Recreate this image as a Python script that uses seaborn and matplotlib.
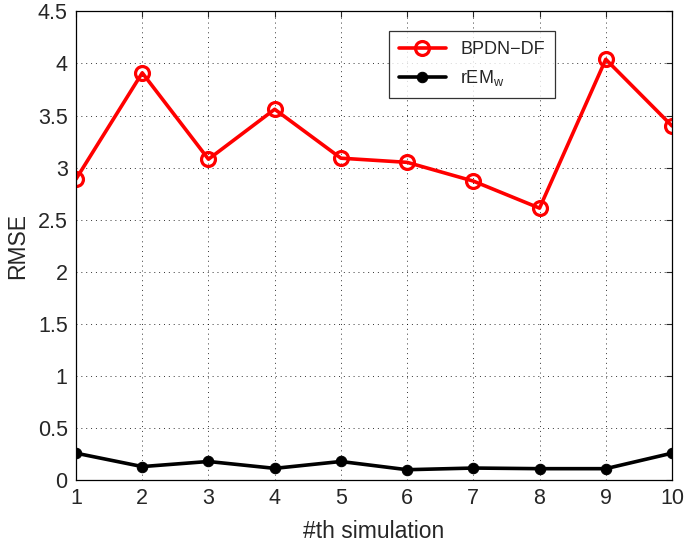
import matplotlib
matplotlib.use("Agg")
import matplotlib.pyplot as plt
import numpy as np
import pandas as pd
import seaborn as sns

# data
simulation = [1, 2, 3, 4, 5, 6, 7, 8, 9, 10]
bpdn_df = [2.89, 3.91, 3.08, 3.56, 3.09, 3.05, 2.87, 2.61, 4.04, 3.40]
rem_w = [0.256, 0.127, 0.176, 0.110, 0.176, 0.097, 0.113, 0.107, 0.107, 0.256]
y_ticks = [0, 0.5, 1, 1.5, 2, 2.5, 3, 3.5, 4, 4.5]
y_ticklabels = ["0", "0.5", "1", "1.5", "2", "2.5", "3", "3.5", "4", "4.5"]

sns.set_style("white")
plt.rcParams["font.family"] = ["Liberation Sans", "DejaVu Sans"]
plt.rcParams["mathtext.fontset"] = "custom"
plt.rcParams["mathtext.rm"] = "Liberation Sans"

df = pd.DataFrame({"sim": simulation, "BPDN": bpdn_df, "REM": rem_w})

fig = plt.figure(figsize=(6.85, 5.44), dpi=100)
ax = fig.add_axes([0.111, 0.118, 0.870, 0.861])

sns.lineplot(data=df, x="sim", y="BPDN", ax=ax, color="#ff0000", linewidth=2.6,
             marker="o", markersize=10, markerfacecolor="none",
             markeredgecolor="#ff0000", markeredgewidth=2.3, label="BPDN\u2212DF")
sns.lineplot(data=df, x="sim", y="REM", ax=ax, color="black", linewidth=2.6,
             marker="o", markersize=7.5, markerfacecolor="black",
             markeredgecolor="black", label=r"rEM$_{\mathrm{w}}$")

ax.set_xlim(1, 10)
ax.set_ylim(0, 4.5)
ax.set_xticks(simulation)
ax.set_xticklabels([str(s) for s in simulation])
ax.set_yticks(y_ticks)
ax.set_yticklabels(y_ticklabels)
ax.tick_params(direction="in", length=4, width=0.8, labelsize=15.5,
               top=True, right=True, pad=6)
ax.grid(True, linestyle=(0, (1, 4)), color="black", linewidth=0.7, alpha=0.8)
for sp in ax.spines.values():
    sp.set_color("black")
    sp.set_linewidth(0.9)

ax.set_xlabel("#th simulation", fontsize=16.5, labelpad=8)
ax.set_ylabel("RMSE", fontsize=16.5, labelpad=6)

leg = ax.legend(loc="upper left", bbox_to_anchor=(0.525, 0.958), fontsize=13,
                frameon=True, fancybox=False, edgecolor="black",
                borderaxespad=0, handlelength=2.6, borderpad=0.55,
                labelspacing=0.55)
leg.get_frame().set_linewidth(0.9)

fig.savefig("out.png", dpi=100)
